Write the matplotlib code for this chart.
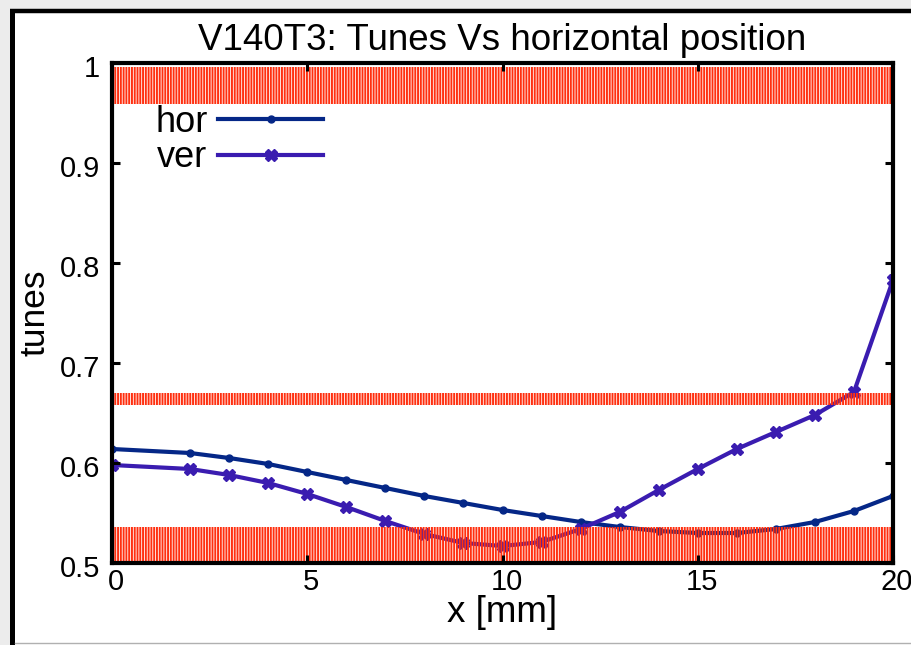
import matplotlib
matplotlib.use("Agg")
import matplotlib.pyplot as plt
from matplotlib.lines import Line2D
from matplotlib.patches import Rectangle
from matplotlib.transforms import ScaledTranslation

plt.rcParams['font.family'] = ['Liberation Sans', 'DejaVu Sans']
plt.rcParams['hatch.linewidth'] = 1.4

# ---- data ----
x_mm = [0, 2, 3, 4, 5, 6, 7, 8, 9, 10, 11, 12, 13, 14, 15, 16, 17, 18, 19, 20]
hor = [0.614, 0.610, 0.605, 0.599, 0.591, 0.583, 0.575, 0.567, 0.560, 0.553,
       0.547, 0.541, 0.536, 0.532, 0.530, 0.530, 0.534, 0.541, 0.552, 0.567]
ver = [0.598, 0.594, 0.588, 0.580, 0.569, 0.556, 0.542, 0.529, 0.520, 0.517,
       0.521, 0.534, 0.551, 0.573, 0.594, 0.614, 0.631, 0.648, 0.671, 0.783]
bands = [(0.500, 0.536), (0.658, 0.670), (0.959, 0.996)]
xticks = [0, 5, 10, 15, 20]
xticklabels = ['0', '5', '10', '15', '20']
yticks = [0.5, 0.6, 0.7, 0.8, 0.9, 1.0]
yticklabels = ['0.5', '0.6', '0.7', '0.8', '0.9', '1']

W, H = 912, 645
fig = plt.figure(figsize=(W / 100, H / 100), dpi=100, facecolor='#ececec')

# outer white panel with black left/top border
fig.patches.append(Rectangle((14 / W, 0), 1, (H - 12) / H, transform=fig.transFigure,
                             facecolor='white', edgecolor='none', zorder=-5))
fig.add_artist(Line2D([12.5 / W, 12.5 / W], [0, (H - 8.5) / H], transform=fig.transFigure,
                      color='black', lw=3.6, solid_capstyle='butt'))
fig.add_artist(Line2D([10 / W, 1], [(H - 10.5) / H, (H - 10.5) / H], transform=fig.transFigure,
                      color='black', lw=3.2, solid_capstyle='butt'))
fig.add_artist(Line2D([15 / W, 1], [(H - 643) / H, (H - 643) / H], transform=fig.transFigure,
                      color='#b0b0b0', lw=1.0))

ax = fig.add_axes([112 / W, 1 - 563 / H, (893 - 112) / W, (563 - 63) / H])
ax.set_facecolor('white')

ax.plot(x_mm, hor, color='#052787', lw=3.0, marker='o', ms=5, label='hor', zorder=2)
ax.plot(x_mm, ver, color='#3a1cb0', lw=3.0, marker='X', ms=8, label='ver', zorder=2)

for lo, hi in bands:
    ax.axhspan(lo, hi, facecolor='none', edgecolor='#ff3010', hatch='||||||',
               linewidth=0, zorder=2.2)

ax.set_xlim(0, 20)
ax.set_ylim(0.5, 1.0)
ax.set_xticks(xticks)
ax.set_xticklabels(xticklabels)
ax.set_yticks(yticks)
ax.set_yticklabels(yticklabels)
ax.set_axisbelow(False)

for sp in ax.spines.values():
    sp.set_linewidth(3.0)
ax.tick_params(direction='in', length=6, width=2.2, top=True, right=True,
               labelsize=21)
ax.tick_params(axis='x', pad=3.5)
ax.tick_params(axis='y', pad=8.5)

dx = ScaledTranslation(4 / 100, 0, fig.dpi_scale_trans)
for lab in ax.get_xticklabels():
    lab.set_transform(lab.get_transform() + dx)
dy = ScaledTranslation(0, -3 / 100, fig.dpi_scale_trans)
for lab in ax.get_yticklabels():
    lab.set_transform(lab.get_transform() + dy)

ax.set_title('V140T3: Tunes Vs horizontal position', fontsize=26.5, pad=9)
ax.set_xlabel('x [mm]', fontsize=26.5, va='baseline')
ax.xaxis.set_label_coords(0.5, (563 - 622) / 500)
ax.set_ylabel('tunes', fontsize=25.5, va='baseline')
ax.yaxis.set_label_coords((45 - 112) / 781, 0.5)

leg = ax.legend(loc='upper left', bbox_to_anchor=(43 / 781, (563 - 105) / 500),
                frameon=False, markerfirst=False, fontsize=26, handlelength=2.9,
                handletextpad=0.3, labelspacing=0.01, numpoints=1,
                borderaxespad=0, borderpad=0)

fig.savefig('out.png', dpi=100, facecolor=fig.get_facecolor())
